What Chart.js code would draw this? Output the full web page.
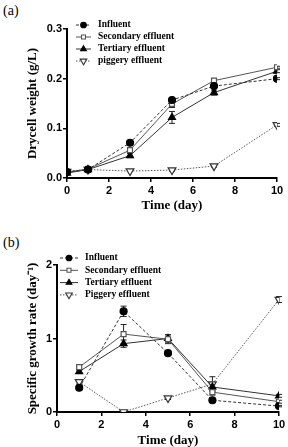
<!DOCTYPE html>
<html>
<head>
<meta charset="utf-8">
<script src="https://cdn.jsdelivr.net/npm/chart.js@4.4.0/dist/chart.umd.min.js"></script>
<style>
html, body { margin:0; padding:0; background:#fff; overflow:hidden; width:288px; height:447px; }
.lbl { position:absolute; left:3px; font:14px "Liberation Serif", serif; color:#000; }
canvas { position:absolute; left:0; }
</style>
</head>
<body>
<div class="lbl" style="top:3px">(a)</div>
<div class="lbl" style="top:235px">(b)</div>
<canvas id="ca" width="288" height="215" style="top:0"></canvas>
<canvas id="cb" width="288" height="240" style="top:215px"></canvas>
<script>
// days sampled
var daysA = [0, 1, 3, 5, 7, 10];
var daysB = [1, 3, 5, 7, 10];

// (a) dry cell weight g/L
var influentA  = [0.012, 0.017, 0.071, 0.157, 0.185, 0.200];
var secondaryA = [0.012, 0.018, 0.056, 0.149, 0.196, 0.223];
var tertiaryA  = [0.010, 0.017, 0.045, 0.122, 0.172, 0.215];
var piggeryA   = [0.013, 0.017, 0.014, 0.016, 0.024, 0.107];
var errInfluentA  = [0, 0, 0.003, 0.003, 0.004, 0.002];
var errSecondaryA = [0, 0, 0.004, 0.007, 0.003, 0.002];
var errTertiaryA  = [0, 0, 0.004, 0.012, 0.005, 0.003];
var errPiggeryA   = [0, 0, 0, 0.002, 0.002, 0.003];

// (b) specific growth rate day-1
var influentB  = [0.33, 1.37, 0.80, 0.16, 0.08];
var secondaryB = [0.61, 1.06, 0.99, 0.27, 0.14];
var tertiaryB  = [0.55, 0.93, 1.00, 0.34, 0.22];
var piggeryB   = [0.41, 0.00, 0.19, 0.38, 1.53];
var errInfluentB  = [0.03, 0.07, 0.02, 0.02, 0.01];
var errSecondaryB = [0.03, 0.13, 0.06, 0.04, 0.02];
var errTertiaryB  = [0.02, 0.05, 0.05, 0.05, 0.02];
var errPiggeryB   = [0.03, 0, 0.02, 0.10, 0.04];

var namesA = ['Influent', 'Secondary effluent', 'Tertiary effluent', 'piggery effluent'];
var namesB = ['Influent', 'Secondary effluent', 'Tertiary effluent', 'Piggery effluent'];

var tickFont = { family: '"Liberation Sans", Arial, sans-serif', size: 11, weight: 'bold' };
var titleFont = { family: '"Liberation Serif", "Times New Roman", serif', size: 13, weight: 'bold' };
var legendFont = 'bold 9.5px "Liberation Serif", serif';

function pts(xs, ys) {
  return xs.map(function(x, i) { return { x: x, y: ys[i] }; });
}

// series look, same order as names
var styles = [
  { line: '#333', dash: [3, 2], point: 'circle', r: 3.5, fill: '#000', stroke: '#000', rot: 0 },
  { line: '#555', dash: [], point: 'rect', r: 3.5, fill: '#fff', stroke: '#555', rot: 0 },
  { line: '#333', dash: [], point: 'triangle', r: 4, fill: '#000', stroke: '#000', rot: 0 },
  { line: '#555', dash: [1.5, 1.5], point: 'triangle', r: 4.5, fill: '#fff', stroke: '#333', rot: 180 }
];

function makeSets(xs, series, errs, names) {
  return series.map(function(ys, k) {
    var s = styles[k];
    return {
      label: names[k],
      data: pts(xs, ys),
      errors: errs[k],
      borderColor: s.line,
      borderWidth: 1,
      borderDash: s.dash,
      pointStyle: s.point,
      pointRadius: s.r,
      pointRotation: s.rot,
      pointBackgroundColor: s.fill,
      pointBorderColor: s.stroke,
      pointBorderWidth: 1.2,
      fill: false,
      tension: 0
    };
  });
}

var errorBars = {
  id: 'errorBars',
  beforeDatasetsDraw: function(chart) {
    var ctx = chart.ctx, x = chart.scales.x, y = chart.scales.y;
    chart.data.datasets.forEach(function(ds) {
      ctx.save();
      ctx.strokeStyle = '#222';
      ctx.lineWidth = 1;
      ds.data.forEach(function(p, i) {
        var e = ds.errors[i];
        if (!e) return;
        var px = x.getPixelForValue(p.x);
        var t = y.getPixelForValue(p.y + e);
        var b = y.getPixelForValue(Math.max(0, p.y - e));
        ctx.beginPath();
        ctx.moveTo(px, t); ctx.lineTo(px, b);
        ctx.moveTo(px - 3, t); ctx.lineTo(px + 3, t);
        ctx.moveTo(px - 3, b); ctx.lineTo(px + 3, b);
        ctx.stroke();
      });
      ctx.restore();
    });
  }
};

var inlineLegend = {
  id: 'inlineLegend',
  afterDraw: function(chart, args, opts) {
    var ctx = chart.ctx;
    chart.data.datasets.forEach(function(ds, k) {
      var s = styles[k];
      var yy = chart.chartArea.top + opts.dy + k * opts.step;
      ctx.save();
      ctx.strokeStyle = s.line;
      ctx.lineWidth = 1;
      ctx.setLineDash(s.dash);
      ctx.beginPath();
      ctx.moveTo(opts.x0, yy); ctx.lineTo(opts.x1, yy);
      ctx.stroke();
      ctx.setLineDash([]);
      ctx.fillStyle = s.fill;
      ctx.strokeStyle = s.stroke;
      ctx.lineWidth = 1.1;
      Chart.helpers.drawPoint(ctx, { pointStyle: s.point, radius: s.r - 0.7, rotation: s.rot, borderWidth: 1.1 }, (opts.x0 + opts.x1) / 2, yy);
      ctx.fillStyle = '#000';
      ctx.font = legendFont;
      ctx.textBaseline = 'middle';
      ctx.fillText(ds.label, opts.tx, yy);
      ctx.restore();
    });
  }
};

function axes(yMax, yStep, yDec, yTitle, yWidth, xHeight, xPad) {
  return {
    x: {
      type: 'linear', min: 0, max: 10,
      ticks: { stepSize: 2, font: tickFont, color: '#000', padding: 2 },
      grid: { drawOnChartArea: false, tickLength: 4, color: '#000', lineWidth: 1.5 },
      border: { color: '#000', width: 2 },
      title: { display: true, text: 'Time (day)', font: titleFont, color: '#000', padding: { top: 0, bottom: xPad } },
      afterFit: function(s) { s.height = xHeight; }
    },
    y: {
      type: 'linear', min: 0, max: yMax,
      ticks: { stepSize: yStep, font: tickFont, color: '#000', padding: 1,
        callback: function(v) { return v.toFixed(yDec); } },
      grid: { drawOnChartArea: false, tickLength: 4, color: '#000', lineWidth: 1.5 },
      border: { color: '#000', width: 2 },
      title: { display: true, text: yTitle, font: titleFont, color: '#000', padding: { top: 25, bottom: 0 } },
      afterFit: function(s) { s.width = yWidth; }
    }
  };
}

new Chart(document.getElementById('ca'), {
  type: 'line',
  data: { datasets: makeSets(daysA, [influentA, secondaryA, tertiaryA, piggeryA],
    [errInfluentA, errSecondaryA, errTertiaryA, errPiggeryA], namesA) },
  options: {
    responsive: false,
    animation: false,
    layout: { padding: { top: 29, right: 11, left: 0, bottom: 0 } },
    plugins: {
      legend: { display: false },
      tooltip: { enabled: false },
      inlineLegend: { x0: 76, x1: 91, tx: 98, dy: -4, step: 12 }
    },
    scales: axes(0.3, 0.1, 1, 'Drycell weight (g/L)', 67, 37, 2)
  },
  plugins: [errorBars, inlineLegend]
});

new Chart(document.getElementById('cb'), {
  type: 'line',
  data: { datasets: makeSets(daysB, [influentB, secondaryB, tertiaryB, piggeryB],
    [errInfluentB, errSecondaryB, errTertiaryB, errPiggeryB], namesB) },
  options: {
    responsive: false,
    animation: false,
    layout: { padding: { top: 50, right: 9, left: 0, bottom: 0 } },
    plugins: {
      legend: { display: false },
      tooltip: { enabled: false },
      inlineLegend: { x0: 60, x1: 78, tx: 85, dy: -7, step: 12.3 }
    },
    scales: axes(2, 1, 0, 'Specific growth rate (day\u207B\u00B9)', 57, 43, 7)
  },
  plugins: [errorBars, inlineLegend]
});
</script>
</body>
</html>
